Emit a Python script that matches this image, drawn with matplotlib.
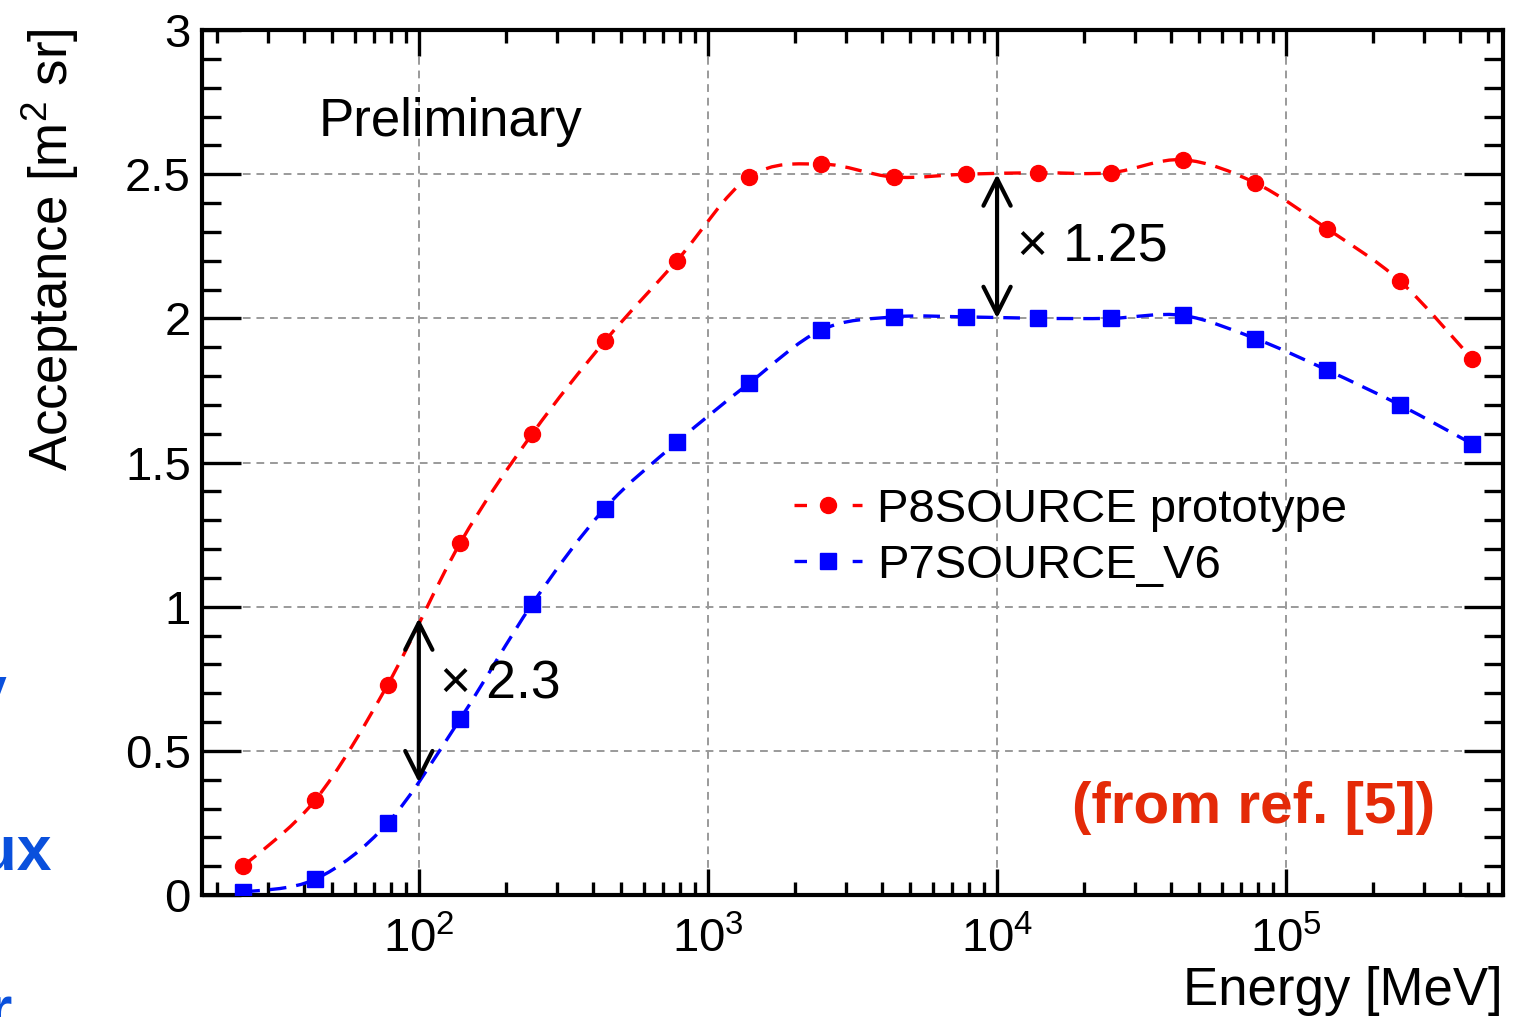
import numpy as np
import matplotlib
matplotlib.use('Agg')
import matplotlib.pyplot as plt
from matplotlib.path import Path
from matplotlib.patches import PathPatch
from matplotlib.lines import Line2D
from matplotlib.ticker import LogLocator, MultipleLocator, NullFormatter, FuncFormatter

plt.rcParams['font.family'] = ['Liberation Sans', 'DejaVu Sans']
plt.rcParams['mathtext.fontset'] = 'custom'
plt.rcParams['mathtext.rm'] = 'Liberation Sans'
plt.rcParams['mathtext.it'] = 'Liberation Sans:italic'

# ── data ─────────────────────────────────────────────────────────────────────
energy = [24.7, 43.9, 78.1, 138.9, 247.0, 439.2, 781.0, 1389, 2470, 4392,
          7810, 13889, 24698, 43920, 78102, 138889, 246984, 439203]
p8_source = [0.10, 0.33, 0.73, 1.22, 1.60, 1.92, 2.20, 2.49, 2.535, 2.49,
             2.50, 2.505, 2.505, 2.55, 2.47, 2.31, 2.13, 1.86]
p7_source = [0.01, 0.055, 0.25, 0.61, 1.01, 1.34, 1.57, 1.775, 1.96, 2.005,
             2.005, 2.0, 2.0, 2.01, 1.93, 1.82, 1.70, 1.565]
x_range = (10**1.25, 10**5.75)
y_range = (0, 3)

RED = '#ff0000'
BLUE = '#0000ff'
FS = 34


def smooth_path(x, y):
    # Catmull-Rom style bezier in (log10 E, y) space, like ROOT's "C" option
    lx = np.log10(x)
    y = np.asarray(y, dtype=float)
    n = len(lx)
    verts = [(x[0], y[0])]
    codes = [Path.MOVETO]
    for i in range(n - 1):
        a = max(i - 1, 0)
        b = min(i + 2, n - 1)
        c1 = (lx[i] + (lx[i + 1] - lx[a]) / 6, y[i] + (y[i + 1] - y[a]) / 6)
        c2 = (lx[i + 1] - (lx[b] - lx[i]) / 6, y[i + 1] - (y[b] - y[i]) / 6)
        verts += [(10**c1[0], c1[1]), (10**c2[0], c2[1]), (x[i + 1], y[i + 1])]
        codes += [Path.CURVE4] * 3
    return Path(verts, codes)


fig = plt.figure(figsize=(15.22, 10.17), dpi=100)
W, H = 1522, 1017
ax = fig.add_axes([202 / W, 1 - 895 / H, (1503 - 202) / W, (895 - 30) / H])

ax.set_xscale('log')
ax.set_xlim(*x_range)
ax.set_ylim(*y_range)

# grid
ax.grid(True, which='major', color='#9a9a9a', ls=(0, (4, 3)), lw=1.4)
ax.set_axisbelow(True)

# curves
dash = (0, (5, 3))
for vals, col in [(p8_source, RED), (p7_source, BLUE)]:
    patch = PathPatch(smooth_path(energy, vals), fill=False, edgecolor=col,
                      lw=2.4, ls=dash, zorder=3)
    ax.add_patch(patch)
ax.plot(energy, p8_source, 'o', color=RED, ms=11.5, ls='none', zorder=4)
ax.plot(energy, p7_source, 's', color=BLUE, ms=11, ls='none', zorder=4)

# ticks / frame
for s in ax.spines.values():
    s.set_linewidth(3)
ax.xaxis.set_major_locator(LogLocator(base=10, numticks=10))
ax.xaxis.set_minor_locator(LogLocator(base=10, subs=np.arange(2, 10), numticks=20))
ax.xaxis.set_minor_formatter(NullFormatter())
ax.yaxis.set_major_locator(MultipleLocator(0.5))
ax.yaxis.set_minor_locator(MultipleLocator(0.1))
ax.yaxis.set_major_formatter(FuncFormatter(lambda v, p: f'{v:g}'))
ax.tick_params(which='both', direction='in', top=True, right=True, width=2.4,
               labelsize=FS, colors='black')
ax.tick_params(axis='x', which='major', length=19, pad=16)
ax.tick_params(axis='x', which='minor', length=9.5)
ax.tick_params(axis='y', which='major', length=28, pad=8)
ax.tick_params(axis='y', which='minor', length=14)

# axis labels
fig.text(1503 / W, 1 - 1005 / H, 'Energy [MeV]', ha='right', va='baseline',
         fontsize=38)
fig.text(50 / W, 1 - 28 / H, 'Acceptance [m$^2$ sr]', ha='center', va='top',
         rotation=90, fontsize=38)

# annotations
arrow = dict(arrowstyle='<->,head_length=0.97,head_width=0.49', lw=3,
             color='black', shrinkA=0, shrinkB=0, mutation_scale=20)
ax.text(10**1.655, 2.68, 'Preliminary', fontsize=38, ha='left', va='center')
ax.annotate('', xy=(100, 0.96), xytext=(100, 0.39), arrowprops=arrow, zorder=5)
ax.annotate('', xy=(1e4, 2.5), xytext=(1e4, 2.0), arrowprops=arrow, zorder=5)
ax.text(10**2.073, 0.73, '\u00d7 2.3', fontsize=38.5, ha='left', va='center')
ax.text(10**4.07, 2.245, '\u00d7 1.25', fontsize=38.5, ha='left', va='center')
fig.text(1435 / W, 1 - 808 / H, '(from ref. [5])', fontsize=42,
         fontweight='bold', color='#e42a08', ha='right', va='center')

# legend
handles = [
    Line2D([], [], color=RED, ls=(0, (3.75, 13.7)), lw=2.4, marker='o', ms=11.5),
    Line2D([], [], color=BLUE, ls=(0, (3.75, 13.7)), lw=2.4, marker='s', ms=11),
]
ax.legend(handles, ['P8SOURCE prototype', 'P7SOURCE_V6'], loc='upper left',
          bbox_to_anchor=(794 / W, 1 - 488 / H), bbox_transform=fig.transFigure,
          frameon=False, fontsize=FS, handlelength=1.45, handletextpad=0.3,
          borderpad=0, borderaxespad=0, labelspacing=0.25, numpoints=1)

# fragments of the neighbouring slide at the left edge
frag = '#0a50dc'
fig.text(52 / W, 1 - 870 / H, 'Flux', ha='right', va='baseline', fontsize=45,
         fontweight='bold', color=frag)
fig.text(6 / W, 1 - 710 / H, 'y', ha='right', va='baseline', fontsize=45,
         fontweight='bold', color=frag)
fig.text(12 / W, 1 - 1030 / H, 'r', ha='right', va='baseline', fontsize=45,
         fontweight='bold', color=frag)

fig.savefig('out.png', dpi=100)
